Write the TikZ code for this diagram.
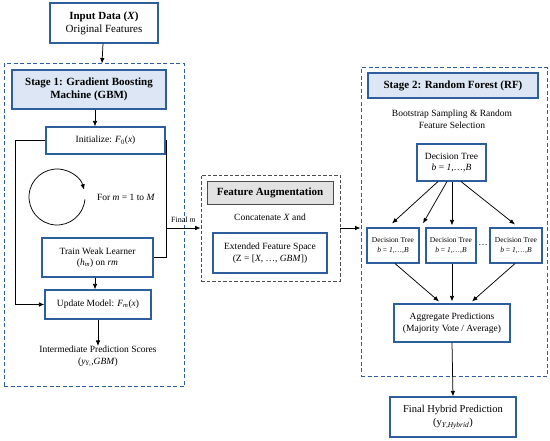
\documentclass[tikz,border=0pt]{standalone}
\usepackage{fontspec}
\setmainfont{Liberation Serif}
\usetikzlibrary{arrows.meta,calc}
\definecolor{bblue}{HTML}{2F5E9E}
\definecolor{lblue}{HTML}{DCE6F4}
\definecolor{lgray}{HTML}{E2E2E2}
\begin{document}
\begin{tikzpicture}[x=1pt,y=-1pt,
  box/.style={draw=bblue,line width=1.1pt,fill=white,align=center,inner sep=1pt,font=\fontsize{9.5}{11.5}\selectfont},
  titlebox/.style={draw=bblue,line width=1.1pt,fill=lblue,align=center,inner sep=1pt,font=\bfseries\fontsize{11}{13}\selectfont},
  grouping/.style={draw=bblue,line width=1pt,dash pattern=on 4pt off 2.5pt},
  fagroup/.style={draw=black!70,line width=0.7pt,dash pattern=on 3.5pt off 2pt},
  txt/.style={align=center,font=\fontsize{9.5}{11.5}\selectfont,inner sep=0pt},
  small/.style={draw=bblue,line width=1.1pt,fill=white,align=center,inner sep=1pt,font=\fontsize{7.5}{10}\selectfont},
  arr/.style={line width=0.75pt,-{Latex[length=5.5pt,width=4.5pt]}},
  ln/.style={line width=0.75pt}]
\useasboundingbox (0,0) rectangle (550,441);
% groups
\node[grouping,minimum width=180pt,minimum height=323pt] (s1) at (94,225.5) {};
\node[fagroup,minimum width=139pt,minimum height=106pt] (fa) at (270.5,228) {};
\node[grouping,minimum width=186pt,minimum height=309pt] (s2) at (454,222.5) {};
% input
\node[box,minimum width=108pt,minimum height=40pt,font=\fontsize{11}{13}\selectfont] (input) at (104,23) {\textbf{Input Data (\textit{X})}\\Original Features};
% stage 1
\node[titlebox,minimum width=154pt,minimum height=39pt] (s1title) at (89,89.5) {Stage 1: Gradient Boosting\\Machine (GBM)};
\node[box,minimum width=119pt,minimum height=27pt] (init) at (105.5,140.5) {Initialize: \textit{F}\textsubscript{0}(\textit{x})};
\node[circle,draw=none,minimum size=56pt] (cyc) at (57,197) {};
\draw[arr] (cyc.center) ++(-5:28pt) arc[start angle=-5,end angle=-345,radius=28pt];
\node[txt] (fortext) at (126,197) {For \textit{m} = 1 to \textit{M}};
\node[box,minimum width=111pt,minimum height=39pt] (train) at (97.5,257.5) {Train Weak Learner\\(\textit{h}\textsubscript{\textit{m}}) on \textit{rm}};
\node[box,minimum width=106pt,minimum height=29pt] (update) at (98,304.5) {Update Model: \textit{F}\textsubscript{\textit{m}}(\textit{x})};
\node[txt,anchor=north] (inter) at (98,346) {Intermediate Prediction Scores\\(\textit{y}\textsubscript{\textit{Y},},\textit{GBM})};
\coordinate (L) at (15,200);
\coordinate (R) at (166,200);
% feature augmentation
\node[draw=black!70,line width=0.8pt,fill=lgray,minimum width=126pt,minimum height=23pt,inner sep=1pt,font=\bfseries\fontsize{11}{13}\selectfont] (fatitle) at (270,192.5) {Feature Augmentation};
\node[txt] (concat) at (270,217) {Concatenate \textit{X} and};
\node[box,minimum width=114pt,minimum height=40pt] (ext) at (270,253) {Extended Feature Space\\(Z = [\textit{X}, \dots, \textit{GBM}])};
% stage 2
\node[titlebox,minimum width=170pt,minimum height=25pt] (s2title) at (453,85.5) {Stage 2: Random Forest (RF)};
\node[txt] (boot) at (452,119.5) {Bootstrap Sampling \& Random\\Feature Selection};
\node[box,minimum width=69pt,minimum height=37pt] (dt0) at (451.5,162.5) {Decision Tree\\\textit{b} = \textit{1},\dots,\textit{B}};
\node[small,minimum width=52pt,minimum height=35pt] (dt1) at (393,245.5) {Decision Tree\\\textit{b} = \textit{1},\dots,\textit{B}};
\node[small,minimum width=50pt,minimum height=35pt] (dt2) at (451,245.5) {Decision Tree\\\textit{b} = \textit{1},\dots,\textit{B}};
\node[txt] (dots) at (483,245) {\dots};
\node[small,minimum width=52pt,minimum height=35pt] (dt3) at (516,245.5) {Decision Tree\\\textit{b} = \textit{1},\dots,\textit{B}};
\node[box,minimum width=116pt,minimum height=38pt] (agg) at (452,323) {Aggregate Predictions\\(Majority Vote / Average)};
\node[box,minimum width=126pt,minimum height=40pt,font=\fontsize{10.5}{13}\selectfont] (final) at (453,417) {Final Hybrid Prediction\\(y\textsubscript{\textit{Y},\textit{Hybrid}})};
% connectors
\draw[arr] ($(input.south)+(-1,0)$) -- ($(s1.north)+(8,0)$);
\draw[arr] ($(s1title.south)+(6,0)$) -- ($(init.north)+(-10.5,0)$);
\draw[arr] (init.west) -- (init.west -| L) -- (update.west -| L) -- (update.west);
\draw[ln] (init.east) -- (init.east -| R) -- (train.east -| R) -- (train.east);
\draw[arr] (R |- fa.west) -- node[above,font=\fontsize{8}{10}\selectfont,yshift=2pt]{Final \textit{m}} (fa.west);
\draw[arr] ($(train.south)+(-2.5,0)$) -- ($(update.north)+(-3,0)$);
\draw[arr] (update.south) -- (inter.north);
\draw[arr] (fa.east) -- (fa.east -| s2.west);
\draw[arr] ($(dt0.south)+(-13.5,0)$) -- ($(dt1.north)+(-1,-4)$);
\draw[arr] ($(dt0.south)+(-4.5,0)$) -- ($(dt1.north)+(30,-4)$);
\draw[arr] ($(dt0.south)+(0.5,0)$) -- ($(dt2.north)+(1,-2)$);
\draw[arr] ($(dt0.south)+(9.5,0)$) -- ($(dt3.north)+(-1,-3)$);
\draw[arr] ($(dt1.south)+(2,0)$) -- ($(agg.north)+(-13,-2)$);
\draw[arr] ($(dt2.south)+(1,0)$) -- ($(agg.north)+(0,-2)$);
\draw[arr] ($(dt3.south)+(-1,0)$) -- ($(agg.north)+(20,-2)$);
\draw[arr] (agg.south) -- (final.north);
\end{tikzpicture}
\end{document}
